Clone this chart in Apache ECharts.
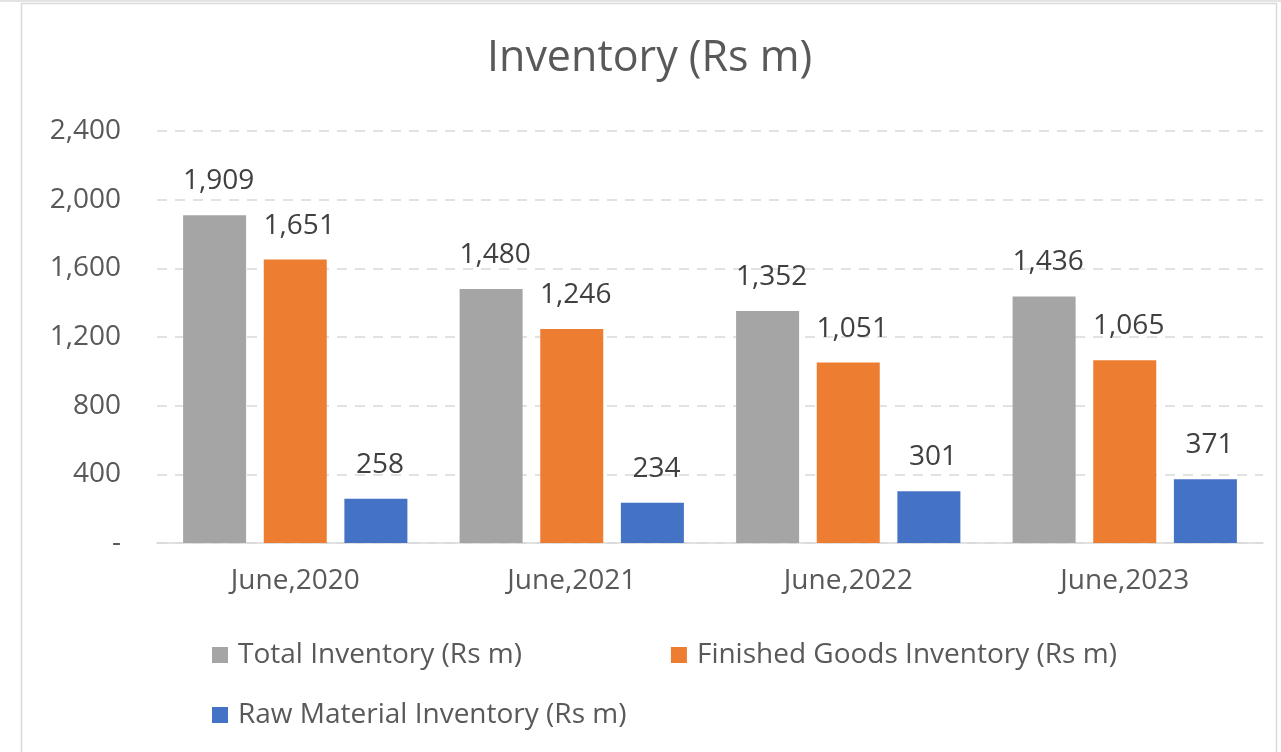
<!DOCTYPE html>
<html>
<head>
<meta charset="utf-8">
<script src="https://cdn.jsdelivr.net/npm/echarts@6/dist/echarts.min.js"></script>
<style>
html,body{margin:0;padding:0;background:#fff;}
#chart{width:1281px;height:752px;}
</style>
</head>
<body>
<div id="chart"></div>
<script>
const categories = ['June,2020', 'June,2021', 'June,2022', 'June,2023'];
const seriesNames = ['Total Inventory (Rs m)', 'Finished Goods Inventory (Rs m)', 'Raw Material Inventory (Rs m)'];
const totalInventory = [1909, 1480, 1352, 1436];
const finishedGoods = [1651, 1246, 1051, 1065];
const rawMaterial = [258, 234, 301, 371];
const seriesColors = ['#A5A5A5', '#ED7D31', '#4472C4'];

const FONT = '"Open Sans", sans-serif';
const fmt = v => v === 0 ? '-' : v.toLocaleString('en-US');

const chart = echarts.init(document.getElementById('chart'), null, {renderer: 'canvas'});

const mk = (name, data, color) => ({
  name: name,
  type: 'bar',
  data: data,
  barWidth: 63,
  barGap: '28%',
  itemStyle: {color: color},
  label: {
    show: true,
    position: 'top',
    distance: 20,
    offset: [4, 0],
    formatter: p => fmt(p.value),
    color: '#404040',
    fontFamily: FONT,
    fontSize: 28
  }
});

const legendText = {color: '#595959', fontFamily: FONT, fontSize: 28, padding: [0, 0, 0, 5]};

chart.setOption({
  backgroundColor: '#ffffff',
  animation: false,
  graphic: [{
    type: 'rect',
    shape: {x: 0, y: 0, width: 1281, height: 2},
    style: {fill: '#e3e3e3'},
    silent: true
  }, {
    type: 'rect',
    shape: {x: 21.5, y: 3.5, width: 1255, height: 780},
    style: {fill: 'none', stroke: '#d9d9d9', lineWidth: 1.5},
    silent: true
  }],
  title: {
    text: 'Inventory (Rs m)',
    left: 487,
    top: 37,
    padding: 0,
    textStyle: {color: '#595959', fontFamily: FONT, fontSize: 43, fontWeight: 'normal'}
  },
  legend: [{
    data: [seriesNames[0], seriesNames[1]],
    left: 212,
    top: 641,
    padding: 0,
    icon: 'rect',
    itemWidth: 16,
    itemHeight: 16,
    itemGap: 149,
    textStyle: legendText
  }, {
    data: [seriesNames[2]],
    left: 212,
    top: 701,
    padding: 0,
    icon: 'rect',
    itemWidth: 16,
    itemHeight: 16,
    textStyle: legendText
  }],
  grid: {left: 157, right: 18, top: 131, bottom: 209, containLabel: false},
  xAxis: {
    type: 'category',
    data: categories,
    axisLine: {lineStyle: {color: '#d9d9d9', width: 1.5}},
    axisTick: {show: false},
    axisLabel: {color: '#595959', fontFamily: FONT, fontSize: 28, margin: 24}
  },
  yAxis: {
    type: 'value',
    min: 0,
    max: 2400,
    interval: 400,
    axisLine: {show: false},
    axisTick: {show: false},
    axisLabel: {color: '#595959', fontFamily: FONT, fontSize: 28, margin: 36, formatter: fmt},
    splitLine: {lineStyle: {color: '#d9d9d9', type: [10, 8], width: 1.5}}
  },
  series: [
    mk(seriesNames[0], totalInventory, seriesColors[0]),
    mk(seriesNames[1], finishedGoods, seriesColors[1]),
    mk(seriesNames[2], rawMaterial, seriesColors[2])
  ]
});
</script>
</body>
</html>
